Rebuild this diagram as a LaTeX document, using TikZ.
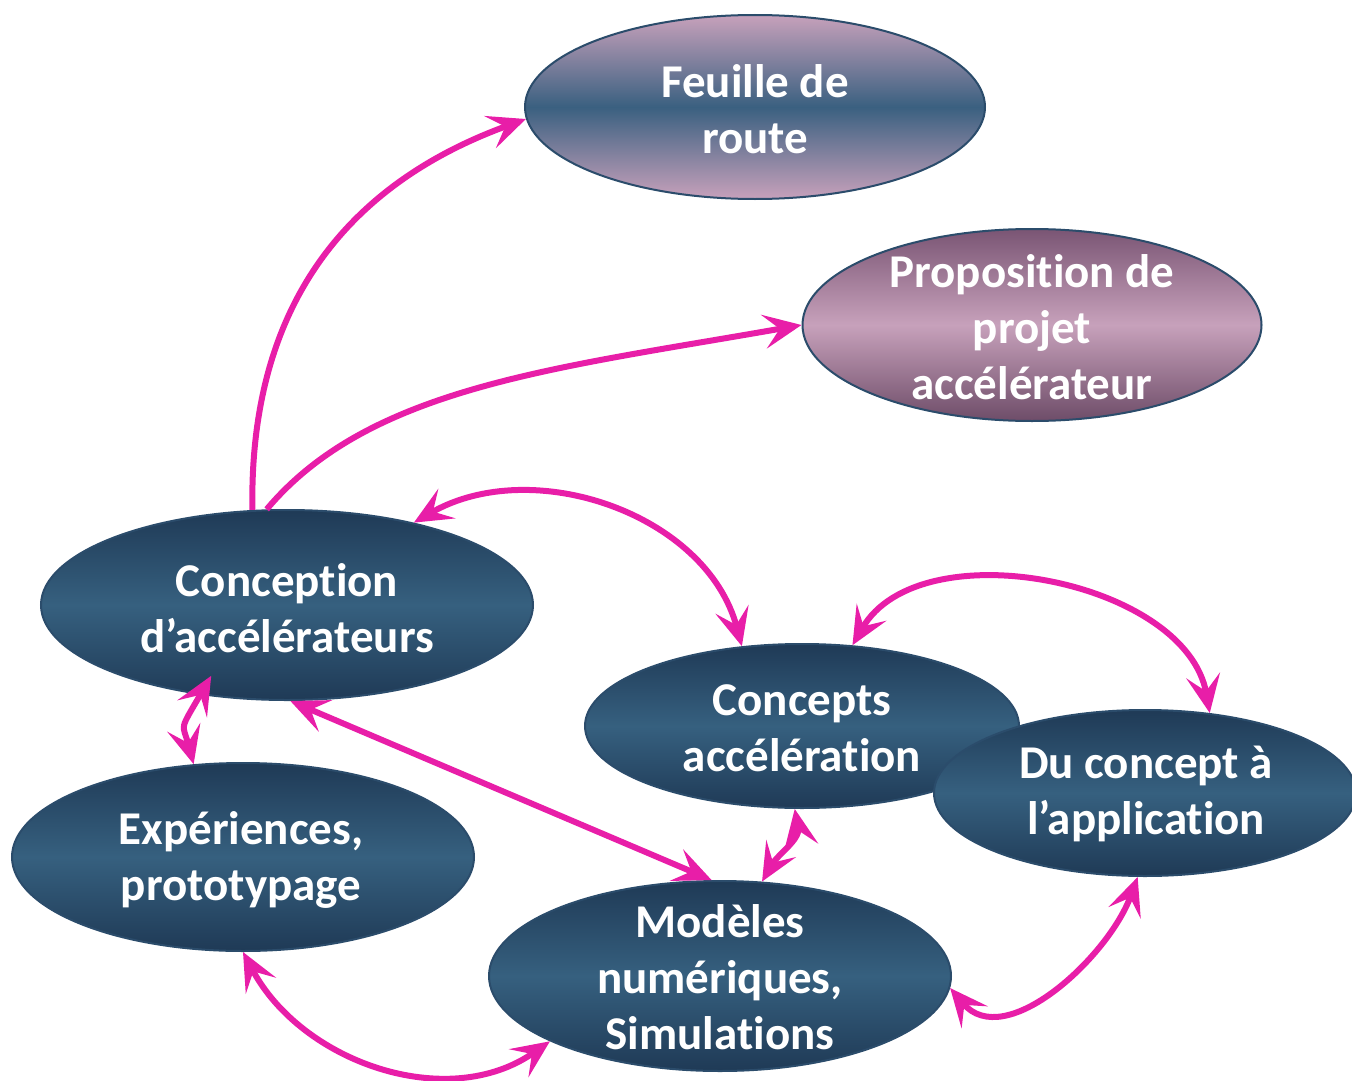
\documentclass[tikz,border=0pt]{standalone}
\usepackage{fontspec}
\setmainfont{Carlito}[Ligatures=NoCommon]
\usetikzlibrary{shapes.geometric,arrows.meta}
\definecolor{mag}{HTML}{E81EA8}
\definecolor{bord}{HTML}{2B4C6B}
\definecolor{bdark}{HTML}{1F3A56}
\definecolor{bmid}{HTML}{36607F}
\definecolor{pinkl}{HTML}{C7A1BB}
\definecolor{pinkd}{HTML}{7A5574}
\definecolor{fmid}{HTML}{3A6080}
\begin{document}
\begin{tikzpicture}[x=1pt,y=-1pt,
  bub/.style={ellipse, draw=bord, line width=2pt, inner sep=0pt},
  bluebub/.style={bub, top color=bdark, bottom color=bdark, middle color=bmid},
  feuillebub/.style={bub, top color=pinkl, bottom color=pinkl, middle color=fmid},
  propbub/.style={bub, top color=pinkd, bottom color=pinkd!90!black, middle color=pinkl},
  txt/.style={text=white, font=\fontsize{47}{56}\selectfont\bfseries, align=center},
  con1/.style={draw=mag, line width=6pt, -{Stealth[length=38pt,width=34pt,inset=16pt]}},
  con2/.style={draw=mag, line width=6pt, {Stealth[length=38pt,width=34pt,inset=16pt]}-{Stealth[length=38pt,width=34pt,inset=16pt]}}
]
\useasboundingbox (0,0) rectangle (1352,1081);

\node[feuillebub, minimum width=460pt, minimum height=184pt] (F) at (755,107) {};
\node[propbub, minimum width=459pt, minimum height=192pt] (P) at (1032,325) {};
\node[bluebub, minimum width=492pt, minimum height=190pt] (C) at (287,605) {};
\node[bluebub, minimum width=434pt, minimum height=164pt] (A) at (802,726) {};
\node[bluebub, minimum width=422pt, minimum height=166pt] (D) at (1145,793) {};
\node[bluebub, minimum width=462pt, minimum height=188pt] (E) at (243,857) {};
\node[bluebub, minimum width=462pt, minimum height=190pt] (M) at (720,976) {};

\node[txt] (Ft) at (755,109) {Feuille de\\route};
\node[txt] (Pt) at (1032,327) {Proposition de\\projet\\accélérateur};
\node[txt] (Ct) at (287,608) {Conception\\d’accélérateurs};
\node[txt] (At) at (802,728) {Concepts\\accélération};
\node[txt] (Dt) at (1146,794) {Du concept à\\l’application};
\node[txt] (Et) at (241,860) {Expériences,\\prototypage};
\node[txt] (Mt) at (720,977) {Modèles\\numériques,\\Simulations};

\draw[con1] (C.110) .. controls +(91:240pt) and +(200:150pt) .. (F.183);
\draw[con1] (C.102) .. controls +(50:160pt) and +(190:250pt) .. (P.180);
\draw[con2] (C.33) to[out=30,in=105] (A.127);
\draw[con2] (A.58) to[out=60,in=100,looseness=0.95] (D.51);
\draw[con2, shorten <=-22pt] (C.226) to[out=240,in=105,looseness=1.6] (E.118);
\draw[con2] (C.-88) -- (M.95);
\draw[con2] (A.265) to[out=280,in=60] (M.66);
\draw[con2] (E.270) to[out=-62,in=215] (M.201);
\draw[con2] (M.-3) to[out=-50,in=250] (D.265);
\end{tikzpicture}
\end{document}
